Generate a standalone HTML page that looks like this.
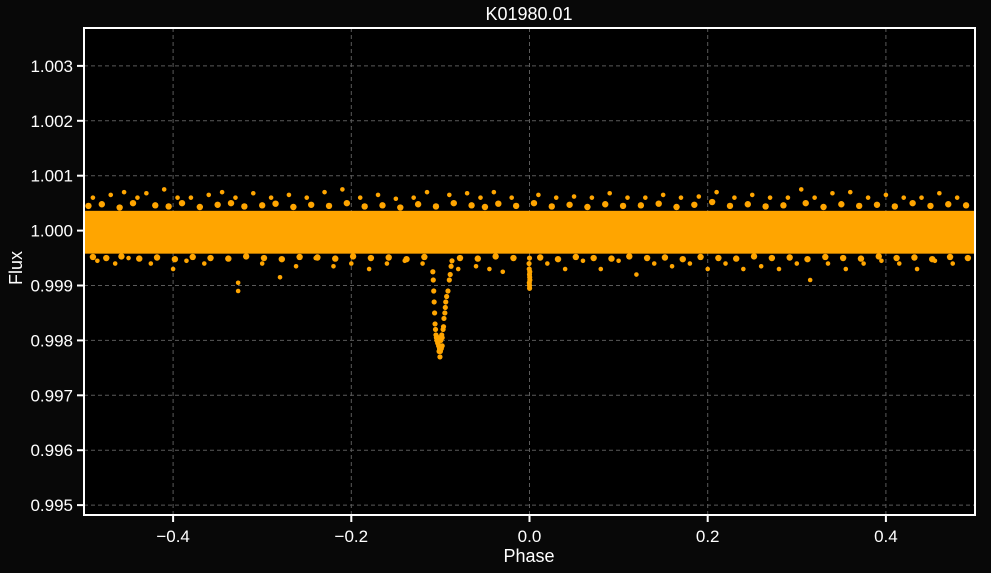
<!DOCTYPE html>
<html><head><meta charset="utf-8"><style>
html,body{margin:0;padding:0;background:#080808;}
svg{display:block;font-family:"Liberation Sans",sans-serif;}
</style></head><body>
<svg id="chart" width="991" height="573">
<rect x="0" y="0" width="991" height="573" fill="#080808"/>
<rect x="84" y="28" width="891" height="487" fill="#000"/>
<g id="grid"></g>
<g id="marks"></g>
<rect x="84" y="28" width="891" height="487" fill="none" stroke="#fff" stroke-width="2"/>
<g id="axes"></g>
<text x="529" y="20" fill="#fff" font-size="18" text-anchor="middle">K01980.01</text>
<text x="529" y="562" fill="#fff" font-size="18" text-anchor="middle">Phase</text>
<text x="22" y="268" fill="#fff" font-size="18" text-anchor="middle" transform="rotate(-90 22 268)">Flux</text>
</svg>
<script>
const xTicks=[-0.4,-0.2,0.0,0.2,0.4];
const xTickLabels=["\u22120.4","\u22120.2","0.0","0.2","0.4"];
const yTicks=[0.995,0.996,0.997,0.998,0.999,1.000,1.001,1.002,1.003];
const yTickLabels=["0.995","0.996","0.997","0.998","0.999","1.000","1.001","1.002","1.003"];
const bandPhase=[-0.5,0.5];
const bandFlux=[0.99958,1.00036];
const outPhase=[-0.49,-0.47,-0.455,-0.44,-0.43,-0.41,-0.395,-0.38,-0.36,-0.345,-0.33,-0.31,-0.29,-0.27,-0.25,-0.23,-0.21,-0.19,-0.17,-0.15,-0.13,-0.115,-0.09,-0.07,-0.055,-0.04,-0.02,0.01,0.03,0.05,0.07,0.09,0.11,0.13,0.15,0.17,0.19,0.21,0.23,0.25,0.27,0.29,0.305,0.32,0.34,0.36,0.38,0.40,0.42,0.44,0.46,0.48,
 -0.485,-0.465,-0.45,-0.425,-0.40,-0.385,-0.365,-0.327,-0.327,-0.30,-0.28,-0.262,-0.24,-0.22,-0.2,-0.18,-0.16,-0.14,-0.12,-0.08,-0.06,-0.045,-0.03,0.02,0.04,0.06,0.08,0.10,0.12,0.14,0.16,0.18,0.2,0.22,0.24,0.26,0.28,0.3,0.315,0.335,0.355,0.375,0.395,0.415,0.435,0.455,0.475];
const outFlux=[1.0006,1.00065,1.0007,1.0006,1.00068,1.00075,1.0006,1.0006,1.00065,1.0007,1.0006,1.00068,1.0006,1.00065,1.0006,1.0007,1.00075,1.0006,1.00065,1.00058,1.0006,1.0007,1.00065,1.00068,1.0006,1.0007,1.0006,1.00065,1.0006,1.00062,1.0006,1.00068,1.0006,1.0006,1.00065,1.0006,1.00062,1.0007,1.0006,1.00065,1.0006,1.0006,1.00075,1.0006,1.00068,1.0007,1.0006,1.00065,1.0006,1.0006,1.00068,1.0006,
 0.99945,0.9994,0.9995,0.9994,0.9993,0.99945,0.9994,0.99905,0.9989,0.9994,0.99915,0.99935,0.9995,0.99935,0.9994,0.9993,0.9994,0.99945,0.9994,0.9993,0.99935,0.9993,0.99925,0.9994,0.9993,0.99945,0.9993,0.99945,0.9992,0.9994,0.99935,0.9994,0.9993,0.9994,0.9993,0.99935,0.9993,0.9994,0.9991,0.9994,0.9993,0.9994,0.99945,0.9994,0.9993,0.99945,0.9994];
const fringePhase=[-0.495,-0.48,-0.46,-0.445,-0.42,-0.405,-0.39,-0.37,-0.35,-0.335,-0.32,-0.3,-0.285,-0.265,-0.245,-0.225,-0.205,-0.185,-0.165,-0.145,-0.125,-0.105,-0.085,-0.065,-0.05,-0.035,-0.015,0.005,0.025,0.045,0.065,0.085,0.105,0.125,0.145,0.165,0.185,0.205,0.225,0.245,0.265,0.285,0.31,0.33,0.35,0.37,0.39,0.41,0.43,0.45,0.47,0.49,
 -0.49,-0.475,-0.458,-0.438,-0.418,-0.398,-0.378,-0.358,-0.338,-0.318,-0.298,-0.278,-0.258,-0.238,-0.218,-0.198,-0.178,-0.158,-0.138,-0.118,-0.078,-0.058,-0.038,-0.018,0.012,0.032,0.052,0.072,0.092,0.112,0.132,0.152,0.172,0.192,0.212,0.232,0.252,0.272,0.292,0.312,0.332,0.352,0.372,0.392,0.412,0.432,0.452,0.472,0.492];
const fringeFlux=[1.00045,1.00048,1.00042,1.0005,1.00046,1.00044,1.0005,1.00043,1.00047,1.0005,1.00044,1.00046,1.00049,1.00043,1.00047,1.00045,1.0005,1.00044,1.00046,1.00042,1.00048,1.00044,1.0005,1.00046,1.00043,1.00049,1.00045,1.0005,1.00044,1.00047,1.00043,1.00048,1.00045,1.00046,1.00049,1.00043,1.00047,1.00052,1.00045,1.00048,1.00044,1.00046,1.0005,1.00043,1.00048,1.00045,1.00047,1.00044,1.0005,1.00045,1.00048,1.00046,
 0.99952,0.9995,0.99953,0.99949,0.99951,0.99948,0.99952,0.9995,0.99949,0.99953,0.9995,0.99948,0.99952,0.99951,0.99949,0.99953,0.9995,0.99951,0.99948,0.99952,0.9995,0.99949,0.99953,0.9995,0.99951,0.99948,0.99952,0.9995,0.99949,0.99953,0.9995,0.99951,0.99948,0.99952,0.9995,0.99949,0.99953,0.9995,0.99951,0.99948,0.99952,0.9995,0.99949,0.99953,0.9995,0.99951,0.99948,0.99952,0.9995];
const transitPhase=[-0.1085,-0.108,-0.1075,-0.107,-0.1065,-0.106,-0.1055,-0.105,-0.1045,-0.104,-0.103,-0.102,-0.101,-0.1,-0.1005,-0.0995,-0.099,-0.0985,-0.098,-0.097,-0.0965,-0.096,-0.095,-0.0945,-0.094,-0.093,-0.0915,-0.09,-0.089,-0.088,-0.087,-0.1015,-0.1025,-0.1,-0.098,
 -0.0005,-0.0003,0.0,0.0002,0.0004,0.0,-0.0002,0.0001,0.0003,0.0];
const transitFlux=[0.99925,0.9991,0.9989,0.9987,0.9985,0.9983,0.9982,0.9981,0.99805,0.9980,0.99795,0.9979,0.99785,0.9979,0.9977,0.9980,0.99785,0.9981,0.99805,0.9982,0.99825,0.9984,0.9985,0.9986,0.9987,0.9988,0.9989,0.9991,0.9992,0.99935,0.99945,0.9978,0.99805,0.9978,0.9979,
 0.9994,0.9993,0.9992,0.99915,0.9991,0.999,0.99905,0.99895,0.99925,0.9995];
const NS='http://www.w3.org/2000/svg';
const X0=84,X1=975,Y0=28,Y1=515,xmin=-0.5,xmax=0.5,ymin=0.99482,ymax=1.00369;
function xs(v){return X0+(v-xmin)/(xmax-xmin)*(X1-X0);}
function ys(v){return Y1-(v-ymin)/(ymax-ymin)*(Y1-Y0);}
function mk(tag,attrs,parent){const e=document.createElementNS(NS,tag);for(const k in attrs)e.setAttribute(k,attrs[k]);parent.appendChild(e);return e;}
const grid=document.getElementById('grid'),axes=document.getElementById('axes'),marks=document.getElementById('marks');
xTicks.forEach((t,i)=>{const x=xs(t);
 const g=mk('line',{x1:x,x2:x,y1:Y0,y2:Y1,stroke:'#5a5a5a','stroke-dasharray':'4,3','stroke-width':1},grid);
 
 
 const tk=mk('line',{x1:x,x2:x,y1:Y1,y2:Y1+7,stroke:'#fff','stroke-width':2},axes);
 
 
 const l=mk('text',{x:x,y:Y1+27,fill:'#fff','font-size':17,'text-anchor':'middle'},axes);l.textContent=xTickLabels[i];
 
 });
yTicks.forEach((t,i)=>{const y=ys(t);
 const g=mk('line',{x1:X0,x2:X1,y1:y,y2:y,stroke:'#5a5a5a','stroke-dasharray':'4,3','stroke-width':1},grid);
 
 
 const tk=mk('line',{x1:X0-7,x2:X0,y1:y,y2:y,stroke:'#fff','stroke-width':2},axes);
 
 
 const l=mk('text',{x:X0-11,y:y+6,fill:'#fff','font-size':17,'text-anchor':'end'},axes);l.textContent=yTickLabels[i];
 
 });
const band=mk('rect',{x:xs(bandPhase[0]),y:ys(bandFlux[1]),width:xs(bandPhase[1])-xs(bandPhase[0]),height:ys(bandFlux[0])-ys(bandFlux[1]),fill:'#ffa500'},marks);


function pts(P,F,name,r){P.forEach((p,i)=>{const c=mk('circle',{cx:xs(p),cy:ys(F[i]),r:r,fill:'#ffa500'},marks);
 
 });}
pts(fringePhase,fringeFlux,'band-edge-point',3.2);
pts(outPhase,outFlux,'outlier-point',2.3);
pts(transitPhase,transitFlux,'transit-point',2.6);
</script>
</body></html>
